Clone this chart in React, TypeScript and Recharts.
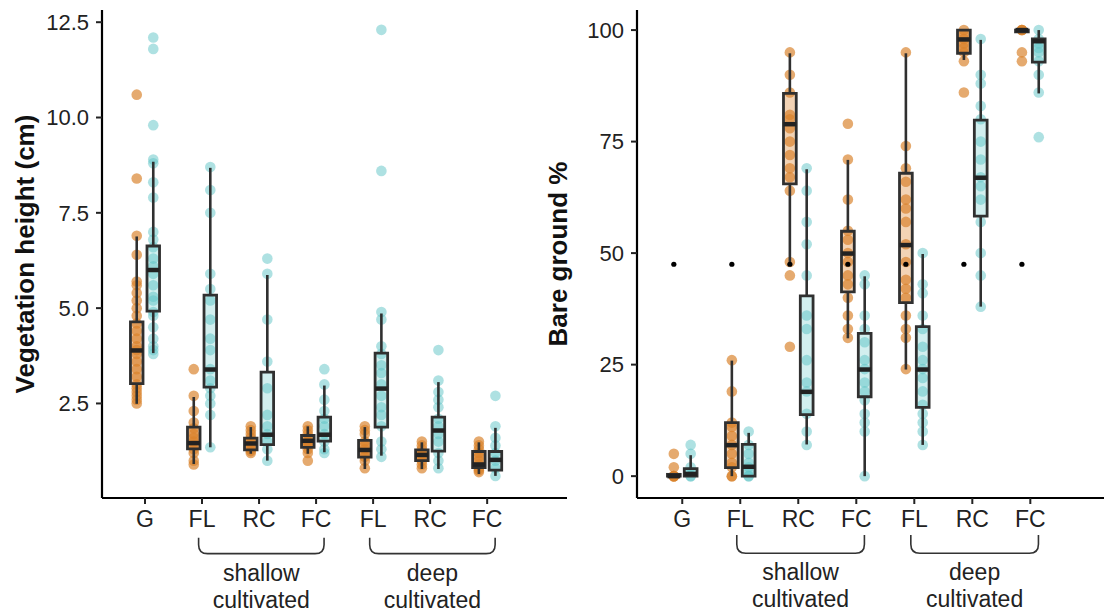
import React from 'react';
import { ComposedChart, XAxis, YAxis, Scatter, ReferenceArea, ReferenceLine } from 'recharts';

// ---------- data ----------
const categories = ['G', 'FL', 'RC', 'FC', 'FL', 'RC', 'FC'];
const categoryPositions = [1, 2, 3, 4, 5, 6, 7];
const heightTicks = [2.5, 5, 7.5, 10, 12.5];
const bareTicks = [0, 25, 50, 75, 100];
const shallowLabel = ['shallow', 'cultivated'];
const deepLabel = ['deep', 'cultivated'];

// box stats per category: [lower whisker, q1, median, q3, upper whisker]
const heightOrangeBoxes = [
  [2.49, 3.02, 3.89, 4.64, 6.88],
  [0.91, 1.31, 1.46, 1.88, 2.67],
  [1.18, 1.28, 1.45, 1.59, 1.88],
  [1.18, 1.35, 1.52, 1.66, 1.9],
  [0.78, 1.09, 1.28, 1.53, 1.88],
  [0.78, 1.0, 1.15, 1.28, 1.48],
  [0.65, 0.82, 0.9, 1.24, 1.48],
];
const heightCyanBoxes = [
  [3.82, 4.92, 6.0, 6.63, 8.84],
  [1.35, 2.93, 3.39, 5.34, 8.68],
  [1.0, 1.42, 1.68, 3.32, 5.87],
  [1.22, 1.51, 1.68, 2.14, 2.97],
  [1.13, 1.88, 2.89, 3.82, 4.86],
  [0.78, 1.25, 1.79, 2.14, 3.06],
  [0.6, 0.75, 1.02, 1.24, 1.86],
];
const heightOrangePoints = [
  [10.6, 8.4, 6.9, 6.4, 5.7, 5.6, 5.4, 5.2, 5.0, 4.8, 4.6, 4.4, 4.2, 4.0, 3.9, 3.8, 3.6, 3.4, 3.2, 3.0, 2.9, 2.8, 2.7, 2.6, 2.5],
  [3.4, 2.7, 2.3, 2.0, 1.85, 1.7, 1.6, 1.5, 1.4, 1.3, 1.2, 1.0, 0.9],
  [1.9, 1.8, 1.7, 1.6, 1.5, 1.45, 1.4, 1.3, 1.25, 1.2],
  [1.9, 1.8, 1.7, 1.6, 1.5, 1.45, 1.4, 1.3, 1.2, 1.0],
  [1.9, 1.8, 1.7, 1.5, 1.4, 1.3, 1.2, 1.1, 1.0, 0.8],
  [1.5, 1.4, 1.3, 1.2, 1.15, 1.1, 1.0, 0.9, 0.8],
  [1.5, 1.4, 1.3, 1.2, 1.1, 1.0, 0.9, 0.8, 0.75, 0.7],
];
const heightCyanPoints = [
  [12.1, 11.8, 9.8, 8.9, 8.8, 8.3, 7.9, 7.0, 6.8, 6.6, 6.3, 6.1, 5.9, 5.6, 5.3, 5.2, 4.9, 4.8, 4.5, 4.2, 4.0, 3.9, 3.8],
  [8.7, 8.1, 7.5, 5.9, 5.5, 5.2, 4.7, 4.2, 3.9, 3.4, 3.1, 2.9, 2.7, 2.5, 2.2, 1.35],
  [6.3, 5.9, 4.7, 3.6, 2.9, 2.2, 1.9, 1.7, 1.5, 1.3, 1.0],
  [3.4, 3.0, 2.6, 2.3, 2.1, 1.9, 1.7, 1.5, 1.3, 1.2],
  [12.3, 8.6, 4.9, 4.7, 4.0, 3.8, 3.5, 3.3, 3.0, 2.7, 2.4, 2.2, 1.9, 1.5, 1.3, 1.1],
  [3.9, 3.1, 2.8, 2.6, 2.4, 2.1, 1.9, 1.7, 1.5, 1.2, 1.0, 0.8],
  [2.7, 1.9, 1.6, 1.4, 1.2, 1.0, 0.8, 0.6],
];

const bareOrangeBoxes = [
  [0, 0, 0, 0.4, 0.4],
  [0, 1.9, 6.95, 12.0, 25.9],
  [47.8, 65.5, 78.9, 85.8, 94.8],
  [30.9, 41.3, 49.9, 54.9, 70.9],
  [23.9, 38.9, 51.8, 67.9, 94.8],
  [93.3, 94.8, 97.9, 100, 100],
  [99.6, 99.6, 100, 100, 100],
];
const bareCyanBoxes = [
  [0, 0, 0.5, 1.7, 4.7],
  [0, 0, 2.1, 7.1, 9.7],
  [7.1, 13.8, 18.9, 40.4, 68.8],
  [0, 17.8, 23.9, 32.0, 44.8],
  [7.0, 15.4, 23.9, 33.5, 49.8],
  [38, 58.3, 66.9, 79.8, 97.8],
  [85.8, 92.8, 97.5, 98.0, 100],
];
const bareOrangePoints = [
  [5, 2, 0, 0, 0, 0],
  [26, 19, 12, 11, 9, 7, 5, 3, 2, 0, 0],
  [95, 90, 86, 81, 80, 78, 75, 72, 69, 67, 64, 48, 45, 29],
  [79, 71, 62, 55, 53, 50, 48, 45, 43, 40, 36, 33, 31],
  [95, 74, 69, 66, 62, 60, 57, 52, 48, 44, 42, 40, 36, 33, 31, 24],
  [100, 99, 98, 97, 96, 95, 93, 86],
  [100, 100, 100, 95, 93],
];
const bareCyanPoints = [
  [7, 5, 2, 1, 0, 0],
  [10, 7, 5, 3, 2, 1, 0, 0],
  [69, 64, 57, 52, 45, 36, 33, 26, 21, 19, 14, 10, 7],
  [45, 43, 36, 33, 30, 26, 24, 21, 19, 17, 14, 12, 10, 0],
  [50, 43, 41, 36, 33, 29, 26, 24, 22, 19, 16, 14, 12, 10, 7],
  [98, 90, 88, 83, 80, 75, 71, 67, 65, 62, 57, 50, 45, 38],
  [100, 98, 97, 96, 95, 93, 90, 86, 76],
];
const bareMarkerDots = [47.5, 47.5, 47.5, 47.5, 47.5, 47.5, 47.5];

// ---------- styling ----------
const FONT = '"Liberation Sans", Arial, Helvetica, sans-serif';
const ORANGE = '#D9822B';
const CYAN = '#5EC4C6';
const BOX_STROKE = '#303030';
const OFFSET = 0.145;
const HALF_W = 0.11;

const dotShape = (color: string, opacity: number, r: number) => (p: any) =>
  p.cx == null ? <g /> : <circle cx={p.cx} cy={p.cy} r={r} fill={color} fillOpacity={opacity} stroke="none" />;

const makeBracket = (lines: string[]) => (p: any) => {
  const { x1, y1, x2, y2 } = p;
  if (x1 == null) return <g />;
  const r = 9;
  const d = `M ${x1} ${y1} L ${x1} ${y2 - r} Q ${x1} ${y2} ${x1 + r} ${y2} L ${x2 - r} ${y2} Q ${x2} ${y2} ${x2} ${y2 - r} L ${x2} ${y1}`;
  const mx = (x1 + x2) / 2;
  return (
    <g>
      <path d={d} fill="none" stroke="#333" strokeWidth={1.6} />
      <text x={mx} y={y2 + 27} textAnchor="middle" fontSize={23} fill="#222" fontFamily={FONT}>{lines[0]}</text>
      <text x={mx} y={y2 + 54} textAnchor="middle" fontSize={23} fill="#222" fontFamily={FONT}>{lines[1]}</text>
    </g>
  );
};

const AxisTitle = (props: any) => {
  const vb = props.viewBox || {};
  const x = (vb.x ?? 0) + props.dx;
  const y = (vb.y ?? 10) + (vb.height ?? 488) / 2;
  return (
    <text x={x} y={y} transform={`rotate(-90, ${x}, ${y})`} textAnchor="middle" dominantBaseline="central"
      fontSize={26} fontWeight="bold" fill="#111" fontFamily={FONT}>{props.text}</text>
  );
};

type PanelProps = {
  left: number; width: number; marginRight: number; yAxisWidth: number; titleDx: number; title: string;
  yDomain: number[]; xDomain: number[]; yTicks: number[]; yFmt: (v: number) => string;
  boxesA: number[][]; boxesB: number[][]; pointsA: number[][]; pointsB: number[][];
  markers?: number[]; bracketTop: number; bracketBottom: number;
};

function Panel(props: PanelProps) {
  const { left, width, marginRight, yAxisWidth, titleDx, title, yDomain, xDomain, yTicks, yFmt,
    boxesA, boxesB, pointsA, pointsB, markers, bracketTop, bracketBottom } = props;
  const ptsA = pointsA.flatMap((vals, i) => vals.map((v) => ({ x: categoryPositions[i] - OFFSET, y: v })));
  const ptsB = pointsB.flatMap((vals, i) => vals.map((v) => ({ x: categoryPositions[i] + OFFSET, y: v })));
  const markerData = (markers || []).map((v, i) => ({ x: categoryPositions[i] - OFFSET, y: v }));

  const boxEls: any[] = [];
  const lineEls: any[] = [];
  const addBoxes = (boxes: number[][], off: number, color: string, opacity: number, tag: string) => {
    boxes.forEach((b, i) => {
      const c = categoryPositions[i] + off;
      const [lo, q1, med, q3, hi] = b;
      boxEls.push(
        <ReferenceArea key={`${tag}a${i}`} x1={c - HALF_W} x2={c + HALF_W} y1={q1} y2={q3}
          fill={color} fillOpacity={opacity} stroke={BOX_STROKE} strokeWidth={2.8} strokeOpacity={1}
          ifOverflow="visible" zIndex={650} />
      );
      lineEls.push(
        <ReferenceLine key={`${tag}l${i}`} segment={[{ x: c, y: lo }, { x: c, y: q1 }]} stroke={BOX_STROKE} strokeWidth={2.6} ifOverflow="visible" zIndex={700} />,
        <ReferenceLine key={`${tag}h${i}`} segment={[{ x: c, y: q3 }, { x: c, y: hi }]} stroke={BOX_STROKE} strokeWidth={2.6} ifOverflow="visible" zIndex={700} />,
        <ReferenceLine key={`${tag}m${i}`} segment={[{ x: c - HALF_W, y: med }, { x: c + HALF_W, y: med }]} stroke="#222" strokeWidth={4.5} ifOverflow="visible" zIndex={710} />
      );
    });
  };
  addBoxes(boxesA, -OFFSET, ORANGE, 0.35, 'o');
  addBoxes(boxesB, OFFSET, CYAN, 0.28, 'c');

  return (
    <div style={{ position: 'absolute', left, top: 0, fontFamily: FONT }}>
      <ComposedChart width={width} height={614} margin={{ top: 10, right: marginRight, bottom: 0, left: 0 }}>
        <XAxis type="number" dataKey="x" domain={xDomain} allowDataOverflow ticks={categoryPositions} interval={0}
          tickFormatter={(v: number) => categories[Math.round(v) - 1] ?? ''} height={116}
          tickSize={6} tickMargin={7} axisLine={{ stroke: '#000', strokeWidth: 2.2 }}
          tickLine={{ stroke: '#222', strokeWidth: 2 }} tick={{ fontSize: 23, fill: '#222', fontFamily: FONT }} />
        <YAxis type="number" dataKey="y" domain={yDomain} allowDataOverflow ticks={yTicks} interval={0}
          tickFormatter={yFmt} width={yAxisWidth} tickSize={6} tickMargin={7}
          axisLine={{ stroke: '#000', strokeWidth: 2.2 }} tickLine={{ stroke: '#222', strokeWidth: 2 }}
          tick={{ fontSize: 22, fill: '#222', fontFamily: FONT }}
          label={{ content: (lp: any) => <AxisTitle {...lp} dx={titleDx} text={title} /> }} />
        <Scatter data={ptsA} fill={ORANGE} shape={dotShape(ORANGE, 0.68, 5.3)} isAnimationActive={false} />
        <Scatter data={ptsB} fill={CYAN} shape={dotShape(CYAN, 0.5, 5.3)} isAnimationActive={false} />
        {boxEls}
        {lineEls}
        {markerData.length > 0 && (
          <Scatter data={markerData} fill="#000" shape={dotShape('#000', 1, 2.6)} isAnimationActive={false} zIndex={800} />
        )}
        <ReferenceLine segment={[{ x: 2 - 0.06, y: bracketTop }, { x: 4 + 0.14, y: bracketBottom }]}
          ifOverflow="visible" stroke="#333" shape={makeBracket(shallowLabel)} zIndex={800} />
        <ReferenceLine segment={[{ x: 5 - 0.06, y: bracketTop }, { x: 7 + 0.14, y: bracketBottom }]}
          ifOverflow="visible" stroke="#333" shape={makeBracket(deepLabel)} zIndex={800} />
      </ComposedChart>
    </div>
  );
}

export default function App() {
  return (
    <div style={{ position: 'absolute', left: 0, top: 0, width: 1104, height: 614, background: '#fff', overflow: 'hidden' }}>
      <Panel left={0} width={575} marginRight={8} yAxisWidth={102} titleDx={25} title="Vegetation height (cm)"
        yDomain={[0.02, 12.82]} xDomain={[0.246, 8.4]} yTicks={heightTicks} yFmt={(v) => v.toFixed(1)}
        boxesA={heightOrangeBoxes} boxesB={heightCyanBoxes} pointsA={heightOrangePoints} pointsB={heightCyanPoints}
        bracketTop={-1.02} bracketBottom={-1.44} />
      <Panel left={530} width={574} marginRight={0} yAxisWidth={107} titleDx={28} title="Bare ground %"
        yDomain={[-4.9, 104.5]} xDomain={[0.22, 8.27]} yTicks={bareTicks} yFmt={(v) => String(v)}
        boxesA={bareOrangeBoxes} boxesB={bareCyanBoxes} pointsA={bareOrangePoints} pointsB={bareCyanPoints}
        markers={bareMarkerDots} bracketTop={-13.2} bracketBottom={-17.3} />
    </div>
  );
}
